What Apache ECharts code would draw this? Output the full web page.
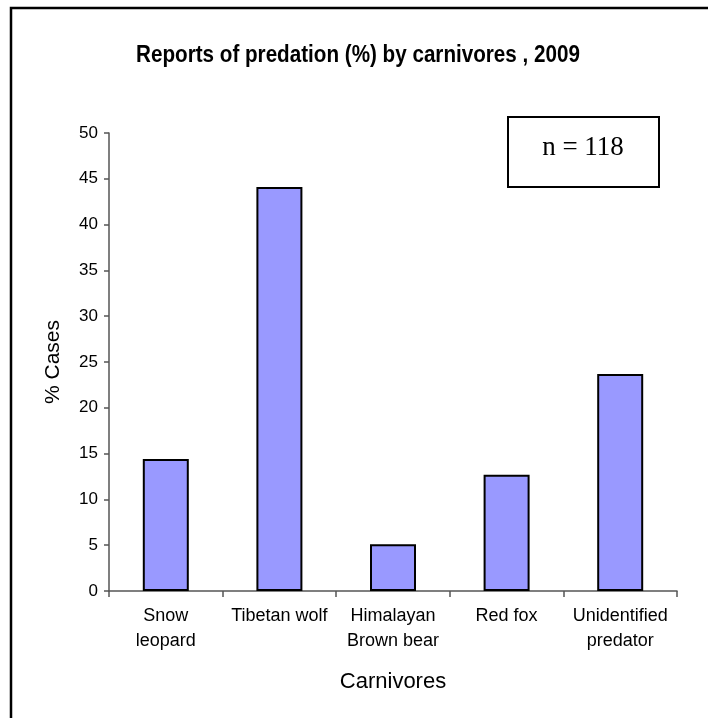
<!DOCTYPE html>
<html>
<head>
<meta charset="utf-8">
<script src="https://cdn.jsdelivr.net/npm/echarts@6/dist/echarts.min.js"></script>
<style>
html,body{margin:0;padding:0;background:#fff;}
#chart{width:708px;height:718px;}
</style>
</head>
<body>
<div id="chart"></div>
<script>
const titleText = 'Reports of predation (%) by carnivores , 2009';
const categories = ['Snow\nleopard', 'Tibetan wolf', 'Himalayan\nBrown bear', 'Red fox', 'Unidentified\npredator'];
const values = [14.4, 44.1, 5.1, 12.7, 23.7];
const yMin = 0, yMax = 50, yStep = 5;
const xAxisName = 'Carnivores';
const yAxisName = '% Cases';
const noteText = 'n = 118';

const chart = echarts.init(document.getElementById('chart'), null, {renderer: 'canvas'});
chart.setOption({
  animation: false,
  backgroundColor: '#ffffff',
  grid: {left: 109, right: 31, top: 133, bottom: 127, containLabel: false},
  xAxis: {
    type: 'category',
    data: categories,
    name: xAxisName,
    nameLocation: 'middle',
    nameGap: 80,
    nameTextStyle: {fontFamily: 'Arial, Liberation Sans, sans-serif', fontSize: 22, color: '#000'},
    axisLine: {lineStyle: {color: '#555', width: 1.5}},
    axisTick: {show: true, alignWithLabel: false, length: 6, inside: false, lineStyle: {color: '#555', width: 1.5}},
    axisLabel: {
      interval: 0, margin: 13, lineHeight: 25,
      fontFamily: 'Arial, Liberation Sans, sans-serif', fontSize: 18, color: '#000'
    },
    splitLine: {show: false}
  },
  yAxis: {
    type: 'value',
    min: yMin, max: yMax, interval: yStep,
    name: yAxisName,
    nameLocation: 'middle',
    nameGap: 45,
    nameRotate: 90,
    nameTextStyle: {fontFamily: 'Arial, Liberation Sans, sans-serif', fontSize: 21, color: '#000'},
    axisLine: {show: true, lineStyle: {color: '#555', width: 1.5}},
    axisTick: {show: true, length: 5, lineStyle: {color: '#555', width: 1.5}},
    axisLabel: {margin: 11, fontFamily: 'Arial, Liberation Sans, sans-serif', fontSize: 17, color: '#000'},
    splitLine: {show: false}
  },
  series: [{
    type: 'bar',
    data: values,
    barWidth: 46,
    itemStyle: {color: '#9999FF', borderColor: '#000', borderWidth: 2}
  }],
  graphic: [
    {
      type: 'rect', silent: true,
      shape: {x: 11, y: 8, width: 1000, height: 1000},
      style: {fill: 'none', stroke: '#000', lineWidth: 2.5}
    },
    {
      type: 'text', silent: true,
      x: 358, y: 55, scaleX: 0.86,
      style: {
        text: titleText, fill: '#000',
        font: "bold 24px 'Liberation Sans', Arial, sans-serif",
        textAlign: 'center', textVerticalAlign: 'middle'
      }
    },
    {
      type: 'rect', silent: true,
      shape: {x: 508, y: 117, width: 151, height: 70},
      style: {fill: '#fff', stroke: '#000', lineWidth: 2}
    },
    {
      type: 'text', silent: true,
      x: 583, y: 148,
      style: {
        text: noteText, fill: '#000',
        font: "27px 'Liberation Serif', 'Times New Roman', serif",
        textAlign: 'center', textVerticalAlign: 'middle'
      }
    }
  ]
});
</script>
</body>
</html>
